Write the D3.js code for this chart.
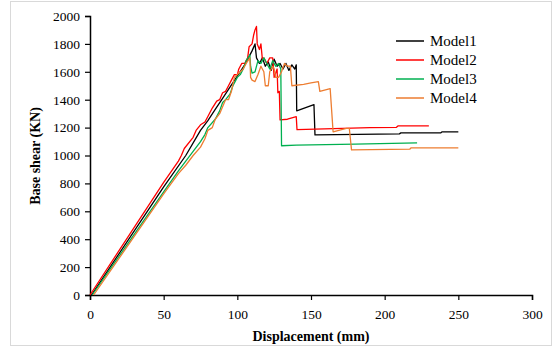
<!DOCTYPE html>
<html><head><meta charset="utf-8">
<script src="https://cdn.jsdelivr.net/npm/d3@7"></script>
<style>body{margin:0;background:#fff}svg{display:block}</style>
</head><body>
<script>
const seriesNames = ["Model1","Model2","Model3","Model4"];
const seriesColors = ["#000000","#ff0000","#00b050","#ed7d31"];
const xTicks = [0,50,100,150,200,250,300];
const yTicks = [0,200,400,600,800,1000,1200,1400,1600,1800,2000];

const model1 = [[1,0],[50,775],[65,1000],[75,1180],[80,1250],[85,1330],[90,1410],[95,1490],[100,1570],[105,1650],[110,1750],[112,1800],[113,1700],[115,1660],[117,1700],[119,1640],[121,1670],[123,1610],[125,1690],[127,1640],[129,1660],[131,1620],[133,1660],[135,1610],[137,1650],[139,1620],[140,1650],[140.3,1320],[152,1365],[152.7,1148],[210,1155],[211,1162],[238,1162],[239,1170],[250,1170]];
const model2 = [[0,0],[50,808],[60,960],[62,1000],[64,1050],[70,1130],[72,1180],[75,1220],[78,1240],[80,1280],[83,1340],[86,1390],[88,1400],[90,1450],[92,1460],[94,1500],[96,1540],[98,1580],[100,1580],[101,1620],[103,1660],[105,1660],[107,1700],[108,1780],[110,1800],[111,1860],[112,1900],[113,1925],[113.5,1800],[115,1760],[116,1800],[117,1690],[118,1700],[120,1660],[122,1700],[124,1700],[125,1560],[127,1620],[127.5,1450],[128.5,1460],[129,1255],[134,1260],[140,1278],[140.5,1185],[190,1200],[208,1202],[209,1212],[230,1212]];
const model3 = [[1.5,0],[50,740],[60,890],[65,960],[70,1030],[75,1100],[78,1150],[80,1200],[85,1260],[88,1320],[90,1380],[92,1400],[95,1440],[97,1500],[100,1560],[102,1580],[104,1620],[106,1680],[108.5,1720],[109,1640],[110,1590],[112,1600],[114,1680],[116,1660],[118,1700],[120,1660],[122,1620],[124,1680],[126,1640],[128,1660],[129.5,1620],[130,1070],[140,1075],[160,1078],[180,1082],[222,1090]];
const model4 = [[2.5,0],[50,725],[60,870],[65,930],[70,1000],[75,1060],[78,1120],[80,1180],[83,1200],[85,1260],[88,1300],[90,1350],[92,1400],[94,1400],[96,1460],[98,1560],[100,1580],[102,1600],[104,1620],[106,1660],[108.5,1700],[109,1560],[110,1540],[112,1530],[114,1580],[116,1640],[118,1600],[119,1500],[121,1500],[122,1600],[124,1640],[125,1620],[126,1560],[128,1560],[130,1600],[132,1660],[134,1640],[136,1640],[137,1500],[145,1510],[150,1520],[155,1530],[156,1460],[163,1480],[165,1170],[174,1195],[176,1195],[177.5,1040],[217,1045],[218,1055],[250,1055]];
const allSeries = [model1, model2, model3, model4];

const W = 559, H = 348;
const svg = d3.select("body").append("svg").attr("width", W).attr("height", H);
svg.append("rect").attr("x",10.5).attr("y",1.5).attr("width",541).attr("height",344)
  .attr("fill","#fff").attr("stroke","#d9d9d9");

const x = d3.scaleLinear().domain([0,300]).range([90,532]);
const y = d3.scaleLinear().domain([0,2000]).range([295,16]);

const font = "'Liberation Serif', 'Times New Roman', serif";

const gx = svg.append("g").attr("transform","translate(0,295)")
  .call(d3.axisBottom(x).tickValues(xTicks).tickSize(5).tickPadding(9).tickFormat(d3.format("d")));
const gy = svg.append("g").attr("transform","translate(90,0)")
  .call(d3.axisLeft(y).tickValues(yTicks).tickSize(5).tickPadding(5).tickFormat(d3.format("d")));
[gx,gy].forEach(g=>{
  g.select(".domain").attr("stroke","#000").attr("stroke-width",1.5);
  g.selectAll(".tick line").attr("stroke","#000").attr("stroke-width",1.2);
  g.selectAll(".tick text").attr("font-family",font).attr("font-size",13.5).attr("fill","#000");
});

const line = d3.line().x(d=>x(d[0])).y(d=>y(d[1]));
allSeries.forEach((s,i)=>{
  svg.append("path").datum(s).attr("d",line).attr("fill","none")
    .attr("stroke",seriesColors[i]).attr("stroke-width",1.3).attr("stroke-linejoin","round");
});

svg.append("text").attr("x",311).attr("y",341).attr("text-anchor","middle")
  .attr("font-family",font).attr("font-weight","bold").attr("font-size",14).text("Displacement (mm)");
svg.append("text").attr("transform","translate(40,156) rotate(-90)").attr("text-anchor","middle")
  .attr("font-family",font).attr("font-weight","bold").attr("font-size",14).text("Base shear (KN)");

const lg = svg.append("g");
seriesNames.forEach((n,i)=>{
  const yy = 41 + i*19;
  lg.append("line").attr("x1",396).attr("x2",424).attr("y1",yy).attr("y2",yy)
    .attr("stroke",seriesColors[i]).attr("stroke-width",1.5);
  lg.append("text").attr("x",430).attr("y",yy+5).attr("font-family",font).attr("font-size",15)
    .attr("fill","#000").text(n);
});
</script>
</body></html>
